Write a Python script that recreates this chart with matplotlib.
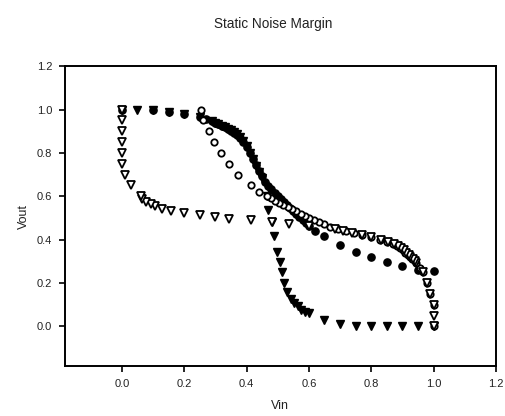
import matplotlib
matplotlib.use("Agg")
import matplotlib.pyplot as plt

# ==============================
# data
# ==============================
# filled circles: inverter 1 (Vout vs Vin)
fc_x = [0.0, 0.1, 0.15, 0.2, 0.25, 0.27, 0.29, 0.30, 0.31, 0.32, 0.33, 0.34, 0.35, 0.36,
        0.37, 0.38, 0.39, 0.40, 0.41, 0.42, 0.43, 0.44, 0.45, 0.46, 0.47, 0.48, 0.49, 0.50,
        0.51, 0.52, 0.53, 0.54, 0.55, 0.56, 0.57, 0.58, 0.59, 0.60, 0.62, 0.65, 0.70, 0.75,
        0.80, 0.85, 0.90, 0.95, 1.0]
fc_y = [1.0, 1.0, 0.99, 0.98, 0.965, 0.955, 0.945, 0.94, 0.932, 0.925, 0.918, 0.91, 0.902, 0.893,
        0.882, 0.87, 0.852, 0.828, 0.80, 0.772, 0.745, 0.718, 0.692, 0.668, 0.648, 0.632, 0.617, 0.602,
        0.588, 0.574, 0.56, 0.546, 0.532, 0.518, 0.505, 0.492, 0.478, 0.465, 0.44, 0.415, 0.373, 0.343,
        0.318, 0.295, 0.28, 0.262, 0.255]

# open circles: inverter 1 mirrored
oc_x = [1.0, 1.0, 0.99, 0.98, 0.965, 0.955, 0.945, 0.94, 0.932, 0.925, 0.918, 0.91, 0.902, 0.893,
        0.882, 0.87, 0.852, 0.828, 0.80, 0.772, 0.745, 0.718, 0.692, 0.668, 0.648, 0.632, 0.617, 0.602,
        0.588, 0.574, 0.56, 0.546, 0.532, 0.518, 0.505, 0.492, 0.478, 0.465, 0.44, 0.415, 0.373, 0.343,
        0.318, 0.295, 0.28, 0.262, 0.255]
oc_y = [0.0, 0.1, 0.15, 0.2, 0.25, 0.27, 0.29, 0.30, 0.31, 0.32, 0.33, 0.34, 0.35, 0.36,
        0.37, 0.38, 0.39, 0.40, 0.41, 0.42, 0.43, 0.44, 0.45, 0.46, 0.47, 0.48, 0.49, 0.50,
        0.51, 0.52, 0.53, 0.54, 0.55, 0.56, 0.57, 0.58, 0.59, 0.60, 0.62, 0.65, 0.70, 0.75,
        0.80, 0.85, 0.90, 0.95, 1.0]

# filled triangles: inverter 2 (Vout vs Vin)
ft_x = [0.0, 0.05, 0.1, 0.15, 0.2, 0.25, 0.29, 0.30, 0.31, 0.32, 0.33, 0.34, 0.35, 0.36, 0.37,
        0.38, 0.39, 0.40, 0.41, 0.42, 0.43, 0.44, 0.45, 0.465, 0.47, 0.481, 0.489, 0.497, 0.506,
        0.513, 0.521, 0.53, 0.542, 0.553, 0.564, 0.575, 0.588, 0.599, 0.65, 0.70, 0.75, 0.80,
        0.85, 0.90, 0.95, 1.0]
ft_y = [1.0, 1.0, 1.0, 0.99, 0.98, 0.965, 0.945, 0.94, 0.933, 0.926, 0.92, 0.912, 0.904, 0.895, 0.885,
        0.873, 0.855, 0.83, 0.80, 0.77, 0.74, 0.71, 0.685, 0.60, 0.537, 0.483, 0.415, 0.344, 0.298,
        0.251, 0.20, 0.159, 0.128, 0.108, 0.093, 0.077, 0.066, 0.062, 0.03, 0.01, 0.0, 0.0,
        0.0, 0.0, 0.0, 0.0]

# open triangles: inverter 2 mirrored
ot_x = [1.0, 1.0, 1.0, 0.99, 0.98, 0.965, 0.945, 0.94, 0.933, 0.926, 0.92, 0.912, 0.904, 0.895, 0.885,
        0.873, 0.855, 0.83, 0.80, 0.77, 0.74, 0.71, 0.685, 0.60, 0.537, 0.483, 0.415, 0.344, 0.298,
        0.251, 0.20, 0.159, 0.128, 0.108, 0.093, 0.077, 0.066, 0.062, 0.03, 0.01, 0.0, 0.0,
        0.0, 0.0, 0.0, 0.0]
ot_y = [0.0, 0.05, 0.1, 0.15, 0.2, 0.25, 0.29, 0.30, 0.31, 0.32, 0.33, 0.34, 0.35, 0.36, 0.37,
        0.38, 0.39, 0.40, 0.41, 0.42, 0.43, 0.44, 0.45, 0.465, 0.47, 0.481, 0.489, 0.497, 0.506,
        0.513, 0.521, 0.53, 0.542, 0.553, 0.564, 0.575, 0.588, 0.599, 0.65, 0.70, 0.75, 0.80,
        0.85, 0.90, 0.95, 1.0]

ticks = [0.0, 0.2, 0.4, 0.6, 0.8, 1.0, 1.2]

# ==============================
# plot
# ==============================
plt.rcParams['font.family'] = ['Liberation Sans', 'DejaVu Sans']

fig = plt.figure(figsize=(5.06, 4.16), dpi=100)
ax = fig.add_axes([0.128, 0.12, 0.852, 0.721])

ax.plot(fc_x, fc_y, 'o', ms=5.2, mfc='black', mec='black', mew=1.0, ls='none')
ax.plot(ft_x, ft_y, 'v', ms=6.2, mfc='black', mec='black', mew=1.0, ls='none')
ax.plot(oc_x, oc_y, 'o', ms=4.6, mfc='white', mec='black', mew=1.3, ls='none')
ax.plot(ot_x, ot_y, 'v', ms=6, mfc='white', mec='black', mew=1.3, ls='none')

ax.set_xlim(-0.183, 1.2)
ax.set_ylim(-0.183, 1.2)
ax.set_xticks(ticks)
ax.set_yticks(ticks)
ax.set_xticklabels([f"{t:.1f}" for t in ticks])
ax.set_yticklabels([f"{t:.1f}" for t in ticks])
ax.tick_params(direction='out', length=4, width=1.2, labelsize=8, pad=5,
               colors='black', labelcolor='#222222', top=False, right=False)
for s in ax.spines.values():
    s.set_linewidth(1.4)

ax.set_xlabel("Vin", fontsize=9, labelpad=8, color='#222222')
ax.set_ylabel("Vout", fontsize=9, labelpad=5, color='#222222')
fig.suptitle("Static Noise Margin", fontsize=9.8, x=0.54, y=0.958, color='#222222')

fig.savefig("out.png", dpi=100)
